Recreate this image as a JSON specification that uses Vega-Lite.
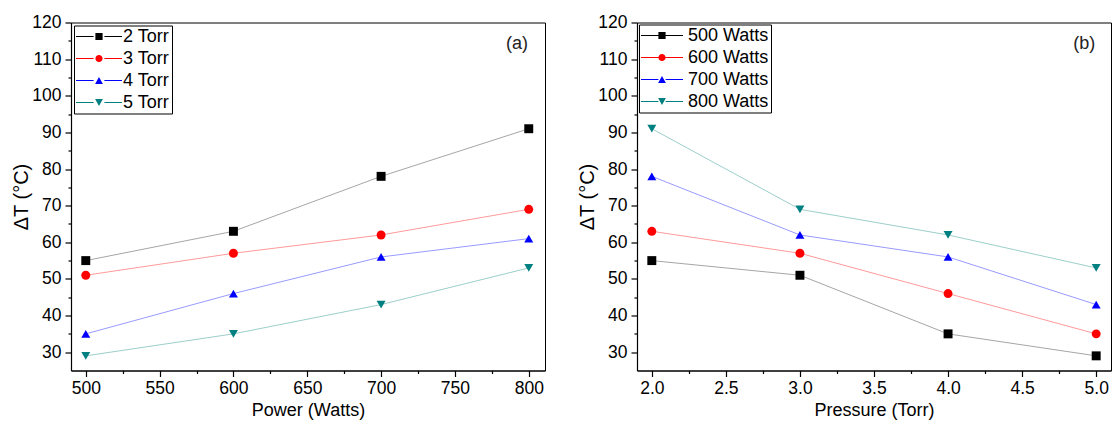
{
  "$schema": "https://vega.github.io/schema/vega-lite/v6.json",
  "background": "white",
  "padding": {"left": 11, "top": 12.5, "right": 0, "bottom": 0},
  "spacing": 31,
  "resolve": {"scale": {"color": "independent", "shape": "independent", "stroke": "independent"}},
  "datasets": {
    "power": [
      {"power": 500, "series": "2 Torr", "dT": 55},
      {"power": 600, "series": "2 Torr", "dT": 63},
      {"power": 700, "series": "2 Torr", "dT": 78},
      {"power": 800, "series": "2 Torr", "dT": 91},
      {"power": 500, "series": "3 Torr", "dT": 51},
      {"power": 600, "series": "3 Torr", "dT": 57},
      {"power": 700, "series": "3 Torr", "dT": 62},
      {"power": 800, "series": "3 Torr", "dT": 69},
      {"power": 500, "series": "4 Torr", "dT": 35},
      {"power": 600, "series": "4 Torr", "dT": 46},
      {"power": 700, "series": "4 Torr", "dT": 56},
      {"power": 800, "series": "4 Torr", "dT": 61},
      {"power": 500, "series": "5 Torr", "dT": 29},
      {"power": 600, "series": "5 Torr", "dT": 35},
      {"power": 700, "series": "5 Torr", "dT": 43},
      {"power": 800, "series": "5 Torr", "dT": 53}
    ],
    "pressure": [
      {"pressure": 2, "series": "500 Watts", "dT": 55},
      {"pressure": 3, "series": "500 Watts", "dT": 51},
      {"pressure": 4, "series": "500 Watts", "dT": 35},
      {"pressure": 5, "series": "500 Watts", "dT": 29},
      {"pressure": 2, "series": "600 Watts", "dT": 63},
      {"pressure": 3, "series": "600 Watts", "dT": 57},
      {"pressure": 4, "series": "600 Watts", "dT": 46},
      {"pressure": 5, "series": "600 Watts", "dT": 35},
      {"pressure": 2, "series": "700 Watts", "dT": 78},
      {"pressure": 3, "series": "700 Watts", "dT": 62},
      {"pressure": 4, "series": "700 Watts", "dT": 56},
      {"pressure": 5, "series": "700 Watts", "dT": 43},
      {"pressure": 2, "series": "800 Watts", "dT": 91},
      {"pressure": 3, "series": "800 Watts", "dT": 69},
      {"pressure": 4, "series": "800 Watts", "dT": 62},
      {"pressure": 5, "series": "800 Watts", "dT": 53}
    ]
  },
  "hconcat": [
    {
      "width": 474,
      "height": 348,
      "data": {"name": "power"},
      "layer": [
        {
          "mark": {"type": "line", "strokeWidth": 1},
          "encoding": {
            "x": {"field": "power", "type": "quantitative", "scale": {"domain": [490, 811], "nice": false, "zero": false},
                  "axis": {"values": [500, 550, 600, 650, 700, 750, 800], "title": "Power (Watts)"}},
            "y": {"field": "dT", "type": "quantitative", "scale": {"domain": [25, 120], "nice": false, "zero": false},
                  "axis": {"values": [30, 40, 50, 60, 70, 80, 90, 100, 110, 120], "title": "ΔT (°C)"}},
            "stroke": {"field": "series", "type": "nominal",
                       "scale": {"domain": ["5 Torr", "4 Torr", "3 Torr", "2 Torr"], "range": ["#9ccfcb", "#9a9aff", "#ff9a9a", "#a6a6a6"]},
                       "legend": null}
          }
        },
        {
          "mark": {"type": "point", "filled": true, "opacity": 1, "size": 80, "strokeWidth": 0},
          "encoding": {
            "x": {"field": "power", "type": "quantitative", "axis": null},
            "y": {"field": "dT", "type": "quantitative", "axis": null},
            "color": {"field": "series", "type": "nominal",
                      "scale": {"domain": ["2 Torr", "3 Torr", "4 Torr", "5 Torr"], "range": ["#000000", "#ff0000", "#0000ff", "#008080"]},
                      "legend": null},
            "shape": {"field": "series", "type": "nominal",
                      "scale": {"domain": ["2 Torr", "3 Torr", "4 Torr", "5 Torr"], "range": ["square", "circle", "triangle-up", "triangle-down"]},
                      "legend": null}
          }
        },
        {
          "transform": [{"filter": "datum.dT < 0"}],
          "mark": {"type": "point", "filled": true, "opacity": 1, "strokeWidth": 0},
          "encoding": {
            "x": {"field": "power", "type": "quantitative", "axis": null},
            "y": {"field": "dT", "type": "quantitative", "axis": null},
            "color": {"field": "series", "type": "nominal",
                      "scale": {"domain": ["2 Torr", "3 Torr", "4 Torr", "5 Torr"], "range": ["#000000", "#ff0000", "#0000ff", "#008080"]},
                      "legend": {"title": null, "orient": "top-left", "offset": 3}},
            "shape": {"field": "series", "type": "nominal",
                      "scale": {"domain": ["2 Torr", "3 Torr", "4 Torr", "5 Torr"],
                                "range": [
                                  "M-1.5,-0.083H1.433V0.083H-1.5Z M3.233,-0.083H6.167V0.083H3.233Z M1.733,-0.6H2.933V0.6H1.733Z",
                                  "M-1.5,-0.083H1.433V0.083H-1.5Z M3.233,-0.083H6.167V0.083H3.233Z M1.733,0A0.6,0.6,0,1,1,2.933,0A0.6,0.6,0,1,1,1.733,0Z",
                                  "M-1.5,-0.083H1.433V0.083H-1.5Z M3.233,-0.083H6.167V0.083H3.233Z M2.333,-0.563L2.983,0.563L1.683,0.563Z",
                                  "M-1.5,-0.083H1.433V0.083H-1.5Z M3.233,-0.083H6.167V0.083H3.233Z M1.683,-0.563L2.983,-0.563L2.333,0.563Z"
                                ]},
                      "legend": {"title": null, "orient": "top-left", "offset": 3}}
          }
        },
        {
          "mark": {"type": "point", "opacity": 0},
          "encoding": {
            "x": {"field": "power", "type": "quantitative",
                  "axis": {"orient": "bottom", "values": [525, 575, 625, 675, 725, 775], "labels": false, "tickSize": 3, "domain": false, "title": null}},
            "y": {"field": "dT", "type": "quantitative",
                  "axis": {"orient": "left", "values": [35, 45, 55, 65, 75, 85, 95, 105, 115], "labels": false, "tickSize": 3, "domain": false, "title": null}}
          }
        },
        {
          "data": {"values": [{"x": 792, "y": 114, "label": "(a)"}]},
          "mark": {"type": "text", "fontSize": 18, "font": "Liberation Sans", "color": "#222222", "align": "center", "baseline": "middle"},
          "encoding": {
            "x": {"field": "x", "type": "quantitative", "axis": null},
            "y": {"field": "y", "type": "quantitative", "axis": null},
            "text": {"field": "label"}
          }
        }
      ],
      "resolve": {"axis": {"x": "independent", "y": "independent"}, "scale": {"color": "independent", "shape": "independent"}}
    },
    {
      "width": 474,
      "height": 348,
      "data": {"name": "pressure"},
      "layer": [
        {
          "mark": {"type": "line", "strokeWidth": 1},
          "encoding": {
            "x": {"field": "pressure", "type": "quantitative", "scale": {"domain": [1.9, 5.1], "nice": false, "zero": false},
                  "axis": {"values": [2, 2.5, 3, 3.5, 4, 4.5, 5], "format": ".1f", "title": "Pressure (Torr)"}},
            "y": {"field": "dT", "type": "quantitative", "scale": {"domain": [25, 120], "nice": false, "zero": false},
                  "axis": {"values": [30, 40, 50, 60, 70, 80, 90, 100, 110, 120], "title": "ΔT (°C)"}},
            "stroke": {"field": "series", "type": "nominal",
                       "scale": {"domain": ["800 Watts", "700 Watts", "600 Watts", "500 Watts"], "range": ["#9ccfcb", "#9a9aff", "#ff9a9a", "#a6a6a6"]},
                       "legend": null}
          }
        },
        {
          "mark": {"type": "point", "filled": true, "opacity": 1, "size": 80, "strokeWidth": 0},
          "encoding": {
            "x": {"field": "pressure", "type": "quantitative", "axis": null},
            "y": {"field": "dT", "type": "quantitative", "axis": null},
            "color": {"field": "series", "type": "nominal",
                      "scale": {"domain": ["500 Watts", "600 Watts", "700 Watts", "800 Watts"], "range": ["#000000", "#ff0000", "#0000ff", "#008080"]},
                      "legend": null},
            "shape": {"field": "series", "type": "nominal",
                      "scale": {"domain": ["500 Watts", "600 Watts", "700 Watts", "800 Watts"], "range": ["square", "circle", "triangle-up", "triangle-down"]},
                      "legend": null}
          }
        },
        {
          "transform": [{"filter": "datum.dT < 0"}],
          "mark": {"type": "point", "filled": true, "opacity": 1, "strokeWidth": 0},
          "encoding": {
            "x": {"field": "pressure", "type": "quantitative", "axis": null},
            "y": {"field": "dT", "type": "quantitative", "axis": null},
            "color": {"field": "series", "type": "nominal",
                      "scale": {"domain": ["500 Watts", "600 Watts", "700 Watts", "800 Watts"], "range": ["#000000", "#ff0000", "#0000ff", "#008080"]},
                      "legend": {"title": null, "orient": "top-left", "offset": 2}},
            "shape": {"field": "series", "type": "nominal",
                      "scale": {"domain": ["500 Watts", "600 Watts", "700 Watts", "800 Watts"],
                                "range": [
                                  "M-1.5,-0.083H1.4V0.083H-1.5Z M2.6,-0.083H5.5V0.083H2.6Z M1.4,-0.6H2.6V0.6H1.4Z",
                                  "M-1.5,-0.083H1.4V0.083H-1.5Z M2.6,-0.083H5.5V0.083H2.6Z M1.4,0A0.6,0.6,0,1,1,2.6,0A0.6,0.6,0,1,1,1.4,0Z",
                                  "M-1.5,-0.083H1.4V0.083H-1.5Z M2.6,-0.083H5.5V0.083H2.6Z M2,-0.563L2.65,0.563L1.35,0.563Z",
                                  "M-1.5,-0.083H1.4V0.083H-1.5Z M2.6,-0.083H5.5V0.083H2.6Z M1.35,-0.563L2.65,-0.563L2,0.563Z"
                                ]},
                      "legend": {"title": null, "orient": "top-left", "offset": 2}}
          }
        },
        {
          "mark": {"type": "point", "opacity": 0},
          "encoding": {
            "x": {"field": "pressure", "type": "quantitative",
                  "axis": {"orient": "bottom", "values": [2.25, 2.75, 3.25, 3.75, 4.25, 4.75], "labels": false, "tickSize": 3, "domain": false, "title": null}},
            "y": {"field": "dT", "type": "quantitative",
                  "axis": {"orient": "left", "values": [35, 45, 55, 65, 75, 85, 95, 105, 115], "labels": false, "tickSize": 3, "domain": false, "title": null}}
          }
        },
        {
          "data": {"values": [{"x": 4.92, "y": 114, "label": "(b)"}]},
          "mark": {"type": "text", "fontSize": 18, "font": "Liberation Sans", "color": "#222222", "align": "center", "baseline": "middle"},
          "encoding": {
            "x": {"field": "x", "type": "quantitative", "axis": null},
            "y": {"field": "y", "type": "quantitative", "axis": null},
            "text": {"field": "label"}
          }
        }
      ],
      "resolve": {"axis": {"x": "independent", "y": "independent"}, "scale": {"color": "independent", "shape": "independent"}}
    }
  ],
  "config": {
    "view": {"stroke": "black", "strokeWidth": 1},
    "font": "Liberation Sans",
    "axis": {
      "domainColor": "black", "domainWidth": 1.2, "tickColor": "black", "tickWidth": 1.2, "tickSize": 6,
      "labelColor": "black", "labelFontSize": 17.5, "labelFont": "Liberation Sans", "labelPadding": 4,
      "titleFont": "Liberation Sans", "titleFontSize": 18, "titleFontWeight": "normal", "titleColor": "black",
      "grid": false, "labelFlush": false, "labelOverlap": false
    },
    "axisX": {"labelPadding": 3, "titlePadding": 4},
    "axisY": {"titlePadding": 0, "titleFontSize": 20},
    "legend": {
      "padding": 2, "strokeColor": "black", "fillColor": "white",
      "rowPadding": 4, "labelOffset": 29, "symbolSize": 144, "symbolStrokeWidth": 0,
      "labelFontSize": 18, "labelFont": "Liberation Sans", "labelColor": "black"
    }
  }
}
